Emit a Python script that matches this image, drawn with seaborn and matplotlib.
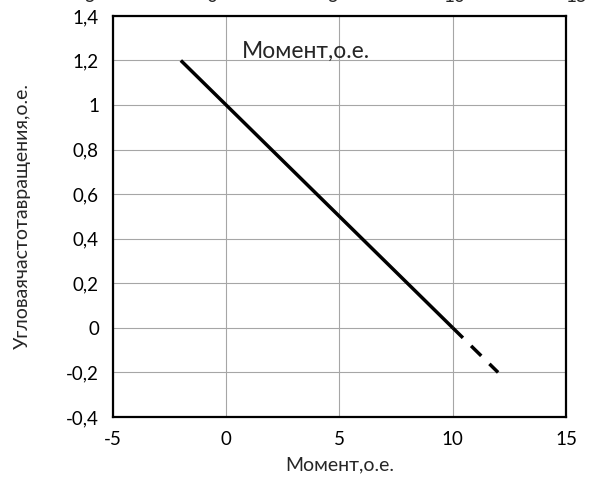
import matplotlib
matplotlib.use("Agg")
import matplotlib.pyplot as plt
import seaborn as sns
import pandas as pd
from matplotlib.ticker import FuncFormatter

# Mechanical characteristic: angular speed vs torque (per-unit)
torque_main = [-2.0, 10.0]
speed_main = [1.2, 0.0]
torque_ext = [10.0, 12.0]
speed_ext = [0.0, -0.2]

x_ticks = [-5, 0, 5, 10, 15]
y_ticks = [-0.4, -0.2, 0.0, 0.2, 0.4, 0.6, 0.8, 1.0, 1.2, 1.4]

# Tick labels of the chart above, cut by the top edge of the figure
upper_labels = ["-5", "0", "5", "10", "15"]

x_label = "Момент,о.е."
y_label = "Угловаячастотавращения,о.е."
inner_label = "Момент,о.е."

sns.set_style("white")
plt.rcParams["font.family"] = ["Lato", "DejaVu Sans"]

df_main = pd.DataFrame({"M": torque_main, "w": speed_main})
df_ext = pd.DataFrame({"M": torque_ext, "w": speed_ext})

fig = plt.figure(figsize=(5.94, 4.97), dpi=100)
ax = fig.add_axes([0.190, 0.161, 0.763, 0.807])

sns.lineplot(data=df_main, x="M", y="w", ax=ax, color="black",
             linewidth=2.5, solid_capstyle="butt", zorder=3)
sns.lineplot(data=df_ext, x="M", y="w", ax=ax, color="black",
             linewidth=2.5, dashes=False, zorder=3,
             linestyle=(0, (4.1, 3.3)), dash_capstyle="butt")

ax.set_xlim(x_ticks[0], x_ticks[-1])
ax.set_ylim(y_ticks[0], y_ticks[-1])
ax.set_xticks(x_ticks)
ax.set_yticks(y_ticks)

def comma_fmt(v, pos):
    s = f"{v:.1f}".rstrip("0").rstrip(".")
    if s == "-0":
        s = "0"
    return s.replace(".", ",")

ax.yaxis.set_major_formatter(FuncFormatter(comma_fmt))
ax.xaxis.set_major_formatter(FuncFormatter(comma_fmt))

ax.grid(True, color="#a6a6a6", linewidth=0.8)
ax.set_axisbelow(True)
for sp in ax.spines.values():
    sp.set_color("black")
    sp.set_linewidth(1.6)

ax.tick_params(axis="both", direction="out", length=5, width=0.8,
               color="#808080", labelsize=13.5, labelcolor="black", pad=5)

ax.set_xlabel(x_label, fontsize=14)
ax.set_ylabel(y_label, fontsize=14)
ax.xaxis.set_label_coords(0.5, -0.12)
ax.yaxis.set_label_coords(-0.2, 0.5)
ax.xaxis.label.set_va("center")
ax.yaxis.label.set_va("center")

ax.text(3.5, 1.24, inner_label, fontsize=16.5, ha="center", va="center")

W = 594.0
for lbl, px in zip(upper_labels, [88, 212, 333, 454, 576]):
    fig.text(px / W, 1 - 1.5 / 497, lbl, fontsize=13.5, ha="center",
             va="baseline")

fig.savefig("out.png", dpi=100)
